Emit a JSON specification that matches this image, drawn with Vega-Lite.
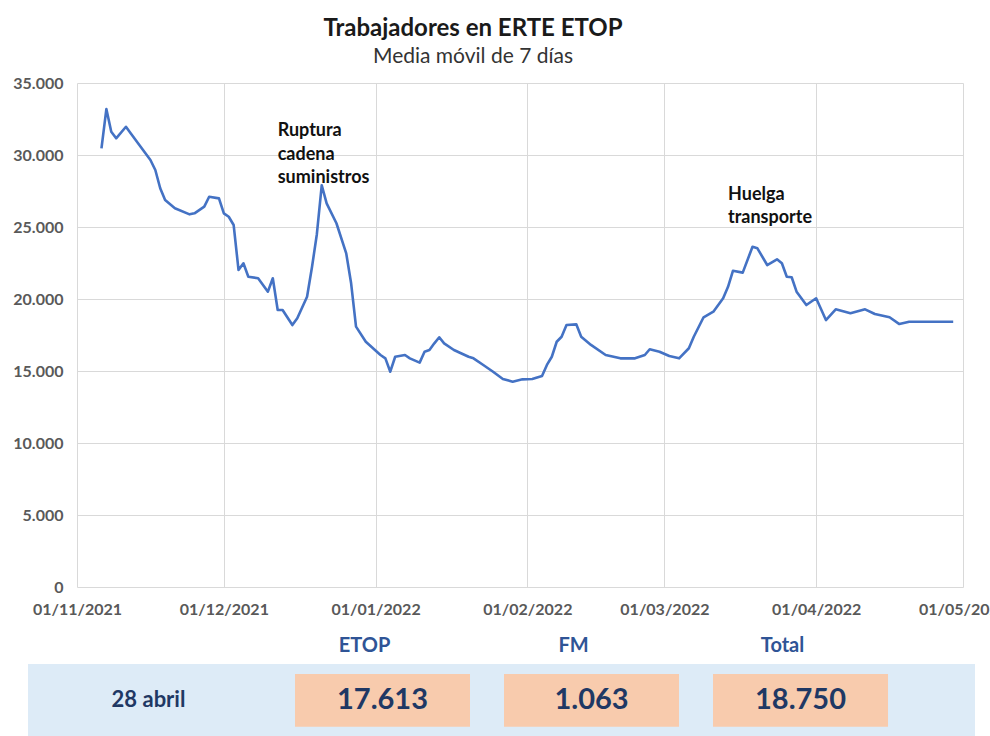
{
  "$schema": "https://vega.github.io/schema/vega-lite/v6.json",
  "padding": {"left": 10, "top": 17, "right": 0, "bottom": 0},
  "background": "white",
  "spacing": 18,
  "config": {
    "font": "Lato",
    "locale": {
      "number": {"decimal": ",", "thousands": ".", "grouping": [3], "currency": ["", " €"]}
    },
    "view": {"stroke": null}
  },
  "datasets": {
    "serie": [
      {"fecha": "2021-11-06", "valor": 30460},
      {"fecha": "2021-11-07", "valor": 33190},
      {"fecha": "2021-11-08", "valor": 31620},
      {"fecha": "2021-11-09", "valor": 31160},
      {"fecha": "2021-11-11", "valor": 31960},
      {"fecha": "2021-11-12", "valor": 31500},
      {"fecha": "2021-11-14", "valor": 30580},
      {"fecha": "2021-11-16", "valor": 29650},
      {"fecha": "2021-11-17", "valor": 28960},
      {"fecha": "2021-11-18", "valor": 27690},
      {"fecha": "2021-11-19", "valor": 26870},
      {"fecha": "2021-11-21", "valor": 26300},
      {"fecha": "2021-11-24", "valor": 25880},
      {"fecha": "2021-11-25", "valor": 25950},
      {"fecha": "2021-11-27", "valor": 26410},
      {"fecha": "2021-11-28", "valor": 27100},
      {"fecha": "2021-11-30", "valor": 26990},
      {"fecha": "2021-12-01", "valor": 25950},
      {"fecha": "2021-12-02", "valor": 25710},
      {"fecha": "2021-12-03", "valor": 25140},
      {"fecha": "2021-12-04", "valor": 22010},
      {"fecha": "2021-12-05", "valor": 22480},
      {"fecha": "2021-12-06", "valor": 21550},
      {"fecha": "2021-12-08", "valor": 21440},
      {"fecha": "2021-12-10", "valor": 20510},
      {"fecha": "2021-12-11", "valor": 21440},
      {"fecha": "2021-12-12", "valor": 19240},
      {"fecha": "2021-12-13", "valor": 19240},
      {"fecha": "2021-12-15", "valor": 18190},
      {"fecha": "2021-12-16", "valor": 18660},
      {"fecha": "2021-12-18", "valor": 20160},
      {"fecha": "2021-12-19", "valor": 22200},
      {"fecha": "2021-12-20", "valor": 24500},
      {"fecha": "2021-12-21", "valor": 27900},
      {"fecha": "2021-12-22", "valor": 26640},
      {"fecha": "2021-12-24", "valor": 25260},
      {"fecha": "2021-12-26", "valor": 23170},
      {"fecha": "2021-12-27", "valor": 21090},
      {"fecha": "2021-12-28", "valor": 18080},
      {"fecha": "2021-12-30", "valor": 17030},
      {"fecha": "2022-01-02", "valor": 16110},
      {"fecha": "2022-01-03", "valor": 15880},
      {"fecha": "2022-01-04", "valor": 14950},
      {"fecha": "2022-01-05", "valor": 15990},
      {"fecha": "2022-01-07", "valor": 16110},
      {"fecha": "2022-01-08", "valor": 15880},
      {"fecha": "2022-01-10", "valor": 15580},
      {"fecha": "2022-01-11", "valor": 16340},
      {"fecha": "2022-01-12", "valor": 16460},
      {"fecha": "2022-01-13", "valor": 16920},
      {"fecha": "2022-01-14", "valor": 17340},
      {"fecha": "2022-01-15", "valor": 16920},
      {"fecha": "2022-01-17", "valor": 16460},
      {"fecha": "2022-01-20", "valor": 15990},
      {"fecha": "2022-01-21", "valor": 15880},
      {"fecha": "2022-01-23", "valor": 15420},
      {"fecha": "2022-01-25", "valor": 14950},
      {"fecha": "2022-01-27", "valor": 14440},
      {"fecha": "2022-01-29", "valor": 14260},
      {"fecha": "2022-01-31", "valor": 14420},
      {"fecha": "2022-02-02", "valor": 14440},
      {"fecha": "2022-02-04", "valor": 14650},
      {"fecha": "2022-02-05", "valor": 15420},
      {"fecha": "2022-02-06", "valor": 15990},
      {"fecha": "2022-02-07", "valor": 17030},
      {"fecha": "2022-02-08", "valor": 17380},
      {"fecha": "2022-02-09", "valor": 18190},
      {"fecha": "2022-02-11", "valor": 18240},
      {"fecha": "2022-02-12", "valor": 17380},
      {"fecha": "2022-02-14", "valor": 16810},
      {"fecha": "2022-02-17", "valor": 16110},
      {"fecha": "2022-02-20", "valor": 15880},
      {"fecha": "2022-02-23", "valor": 15880},
      {"fecha": "2022-02-25", "valor": 16110},
      {"fecha": "2022-02-26", "valor": 16510},
      {"fecha": "2022-02-28", "valor": 16340},
      {"fecha": "2022-03-02", "valor": 16040},
      {"fecha": "2022-03-04", "valor": 15880},
      {"fecha": "2022-03-06", "valor": 16580},
      {"fecha": "2022-03-07", "valor": 17380},
      {"fecha": "2022-03-09", "valor": 18730},
      {"fecha": "2022-03-11", "valor": 19120},
      {"fecha": "2022-03-13", "valor": 20050},
      {"fecha": "2022-03-14", "valor": 20850},
      {"fecha": "2022-03-15", "valor": 21960},
      {"fecha": "2022-03-17", "valor": 21830},
      {"fecha": "2022-03-19", "valor": 23630},
      {"fecha": "2022-03-20", "valor": 23520},
      {"fecha": "2022-03-22", "valor": 22360},
      {"fecha": "2022-03-24", "valor": 22760},
      {"fecha": "2022-03-25", "valor": 22480},
      {"fecha": "2022-03-26", "valor": 21550},
      {"fecha": "2022-03-27", "valor": 21510},
      {"fecha": "2022-03-28", "valor": 20510},
      {"fecha": "2022-03-30", "valor": 19580},
      {"fecha": "2022-04-01", "valor": 20050},
      {"fecha": "2022-04-03", "valor": 18540},
      {"fecha": "2022-04-05", "valor": 19280},
      {"fecha": "2022-04-08", "valor": 19010},
      {"fecha": "2022-04-11", "valor": 19280},
      {"fecha": "2022-04-13", "valor": 18960},
      {"fecha": "2022-04-16", "valor": 18730},
      {"fecha": "2022-04-18", "valor": 18260},
      {"fecha": "2022-04-20", "valor": 18420},
      {"fecha": "2022-04-29", "valor": 18420}
    ],
    "notas": [
      {"fecha": "2021-12-12", "valor": 32290, "texto": ["Ruptura", "cadena", "suministros"]},
      {"fecha": "2022-03-14", "valor": 27850, "texto": ["Huelga", "transporte"]}
    ],
    "resumen": [
      {"fecha": "28 abril", "columna": "ETOP", "valor": 17613},
      {"fecha": "28 abril", "columna": "FM", "valor": 1063},
      {"fecha": "28 abril", "columna": "Total", "valor": 18750}
    ],
    "etiquetaFecha": [
      {"fecha": "28 abril", "columna": "Fecha"}
    ]
  },
  "vconcat": [
    {
      "width": 935,
      "height": 504,
      "title": {
        "text": "Trabajadores en ERTE ETOP",
        "subtitle": "Media móvil de 7 días",
        "anchor": "middle",
        "dx": -22.5,
        "font": "Lato",
        "fontSize": 24,
        "fontWeight": "bold",
        "color": "#1a1a1a",
        "subtitleFont": "Lato",
        "subtitleFontSize": 21,
        "subtitleColor": "#333333",
        "subtitlePadding": 5,
        "offset": 8
      },
      "encoding": {
        "x": {
          "field": "fecha",
          "type": "temporal",
          "scale": {
            "type": "utc",
            "domain": [
              {"year": 2021, "month": 11, "date": 1, "utc": true},
              {"year": 2022, "month": 5, "date": 1, "utc": true}
            ],
            "range": [49, 935]
          },
          "axis": {
            "title": null,
            "values": [
              {"year": 2021, "month": 11, "date": 1, "utc": true},
              {"year": 2021, "month": 12, "date": 1, "utc": true},
              {"year": 2022, "month": 1, "date": 1, "utc": true},
              {"year": 2022, "month": 2, "date": 1, "utc": true},
              {"year": 2022, "month": 3, "date": 1, "utc": true},
              {"year": 2022, "month": 4, "date": 1, "utc": true},
              {"year": 2022, "month": 5, "date": 1, "utc": true}
            ],
            "format": "%d/%m/%Y",
            "labelFont": "Lato",
            "labelFontSize": 16,
            "labelFontWeight": "bold",
            "labelColor": "#595959",
            "labelPadding": 14,
            "labelFlush": false,
            "labelOverlap": false,
            "ticks": false,
            "tickSize": 0,
            "domain": false,
            "grid": true,
            "gridColor": "#D9D9D9"
          }
        },
        "y": {
          "field": "valor",
          "type": "quantitative",
          "scale": {"domain": [0, 35000], "nice": false},
          "axis": {
            "title": null,
            "values": [0, 5000, 10000, 15000, 20000, 25000, 30000, 35000],
            "format": ",.0f",
            "offset": -49,
            "labelFont": "Lato",
            "labelFontSize": 16,
            "labelFontWeight": "bold",
            "labelColor": "#595959",
            "labelPadding": 14,
            "ticks": false,
            "tickSize": 0,
            "domain": false,
            "grid": true,
            "gridColor": "#D9D9D9",
            "minExtent": 67,
            "maxExtent": 67
          }
        }
      },
      "layer": [
        {
          "data": {"name": "serie"},
          "mark": {"type": "line", "color": "#4472C4", "strokeWidth": 2.6, "strokeJoin": "round"}
        },
        {
          "data": {"name": "notas"},
          "mark": {
            "type": "text",
            "align": "left",
            "baseline": "top",
            "font": "Lato",
            "fontSize": 18,
            "fontWeight": "bold",
            "lineHeight": 23.5,
            "color": "#111111"
          },
          "encoding": {"text": {"field": "texto"}}
        }
      ]
    },
    {
      "width": 947,
      "height": 72,
      "layer": [
        {
          "data": {"name": "etiquetaFecha"},
          "mark": {"type": "rect", "color": "#DDEBF7"},
          "encoding": {}
        },
        {
          "encoding": {
            "x": {
              "field": "columna",
              "type": "nominal",
              "scale": {
                "type": "band",
                "domain": ["Fecha", "ETOP", "FM", "Total"],
                "paddingInner": 0.1627,
                "paddingOuter": 0.3468,
                "align": 0.4
              },
              "axis": {
                "orient": "top",
                "title": null,
                "labelExpr": "datum.value == 'Fecha' ? '' : datum.value",
                "labelAngle": 0,
                "labelFont": "Lato",
                "labelFontSize": 20,
                "labelFontWeight": "bold",
                "labelColor": "#2F5496",
                "labelPadding": 9,
                "labelOffset": -18,
                "ticks": false,
                "tickSize": 0,
                "domain": false,
                "grid": false
              }
            },
            "y": {
              "field": "fecha",
              "type": "nominal",
              "scale": {"type": "band", "paddingInner": 0, "paddingOuter": 0.18, "align": 0.52},
              "axis": null
            }
          },
          "layer": [
            {
              "data": {"name": "resumen"},
              "mark": {"type": "rect", "color": "#F8CBAD"}
            },
            {
              "data": {"name": "resumen"},
              "mark": {"type": "text", "font": "Lato", "fontSize": 29, "fontWeight": "bold", "color": "#1F3864", "baseline": "middle"},
              "encoding": {"text": {"field": "valor", "type": "quantitative", "format": ","}}
            },
            {
              "data": {"name": "etiquetaFecha"},
              "mark": {"type": "text", "font": "Lato", "fontSize": 22, "fontWeight": "bold", "color": "#1F3864", "baseline": "middle", "dx": -25},
              "encoding": {"text": {"field": "fecha", "type": "nominal"}}
            }
          ]
        }
      ]
    }
  ]
}
